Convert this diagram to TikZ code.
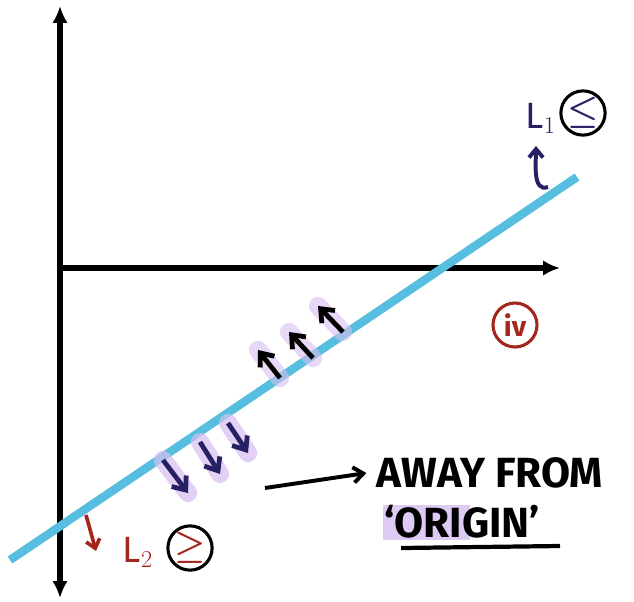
\documentclass[tikz,border=0pt]{standalone}
\usepackage{amsmath}
\usepackage{fontspec}
\setsansfont{Fira Sans}
\usetikzlibrary{arrows.meta, positioning}
\definecolor{lineblue}{RGB}{86,190,222}
\definecolor{navy}{RGB}{40,32,100}
\definecolor{lilac}{RGB}{214,190,240}
\definecolor{penred}{RGB}{165,38,28}

\tikzset{
  axis/.style={line width=4.4pt, -{Latex[length=12pt,width=11pt]}},
  upar/.style={line width=3.4pt, black, -{Straight Barb[length=8pt,width=13pt]}},
  downar/.style={line width=3.4pt, navy, -{Straight Barb[length=8pt,width=13pt]}},
  glow/.style={line width=13pt, lilac, line cap=round},
  ring/.style={circle, draw, line width=2.2pt, minimum size=10mm, inner sep=0pt},
  handtxt/.style={font=\sffamily\bfseries\fontsize{30}{34}\selectfont}
}

\begin{document}
\begin{tikzpicture}[x=0.25mm, y=-0.25mm]
    \useasboundingbox (0,0) rectangle (634,601);

    % axes
    \coordinate (O) at (60,268);
    \coordinate (ytop) at (60,6);
    \coordinate (ybot) at (60,598);
    \coordinate (xend) at (560,268);
    \draw[axis] (O) -- (ytop);
    \draw[axis] (O) -- (ybot);
    \draw[axis] (O) -- (xend);

    % the line
    \coordinate (pA) at (10,560);
    \coordinate (pB) at (577,177);
    \draw[lineblue, line width=6pt] (pA) -- (pB);

    % arrows above the line (L1 side)
    \coordinate (u1) at (280,378); \coordinate (u1t) at (258,350);
    \coordinate (u2) at (313,358); \coordinate (u2t) at (289,332);
    \coordinate (u3) at (343,332); \coordinate (u3t) at (318,306);
    \draw[glow, opacity=0.6] (u1) -- (u1t);
    \draw[glow, opacity=0.6] (u2) -- (u2t);
    \draw[glow, opacity=0.6] (u3) -- (u3t);
    \draw[upar] (u1) -- (u1t);
    \draw[upar] (u2) -- (u2t);
    \draw[upar] (u3) -- (u3t);

    % arrows below the line
    \coordinate (d1) at (163,460); \coordinate (d1t) at (188,493);
    \coordinate (d2) at (200,442); \coordinate (d2t) at (220,474);
    \coordinate (d3) at (228,423); \coordinate (d3t) at (248,453);
    \draw[glow, opacity=0.7] (d1) -- (d1t);
    \draw[glow, opacity=0.7] (d2) -- (d2t);
    \draw[glow, opacity=0.7] (d3) -- (d3t);
    \draw[downar] (d1) -- (d1t);
    \draw[downar] (d2) -- (d2t);
    \draw[downar] (d3) -- (d3t);

    % L1 label
    \node[ring, text=navy, font=\fontsize{32}{34}\selectfont\boldmath] (leq) at (583,113) {$\leq$};
    \node[navy, font=\sffamily\fontsize{26}{28}\selectfont, left=-1pt of leq, yshift=-4pt] (Lone) {L$_1$};
    \coordinate (c1) at (548,187);
    \coordinate (c1t) at (536,146);
    \draw[navy, line width=2.8pt, -{Straight Barb[length=6pt,width=10pt]}]
        (c1) to[out=200, in=270] (c1t);

    % L2 label
    \node[ring, text=penred, font=\fontsize{32}{34}\selectfont\boldmath] (geq) at (190,548) {$\geq$};
    \node[penred, font=\sffamily\fontsize{26}{28}\selectfont, left=6pt of geq, yshift=-3pt] (Ltwo) {L$_2$};
    \coordinate (c2) at (86,515);
    \coordinate (c2t) at (96,551);
    \draw[penred, line width=2.6pt, -{Straight Barb[length=6pt,width=10pt]}] (c2) -- (c2t);

    % region number
    \node[ring, draw=penred, minimum size=11mm, text=penred,
          font=\sffamily\bfseries\fontsize{20}{22}\selectfont] (four) at (515,325) {iv};

    % away from origin
    \node[handtxt, anchor=west] (away) at (372,473) {AWAY FROM};
    \fill[lilac, opacity=0.8] (383,505) rectangle (470,540);
    \node[handtxt] (orig) at (462,522) {`ORIGIN'};
    \draw[line width=3pt] (401,548) -- (560,546);
    \coordinate (a0) at (265,488);
    \draw[line width=2.8pt, -{Straight Barb[length=7pt,width=11pt]}] (a0) -- ([xshift=-4pt]away.west);
\end{tikzpicture}
\end{document}
